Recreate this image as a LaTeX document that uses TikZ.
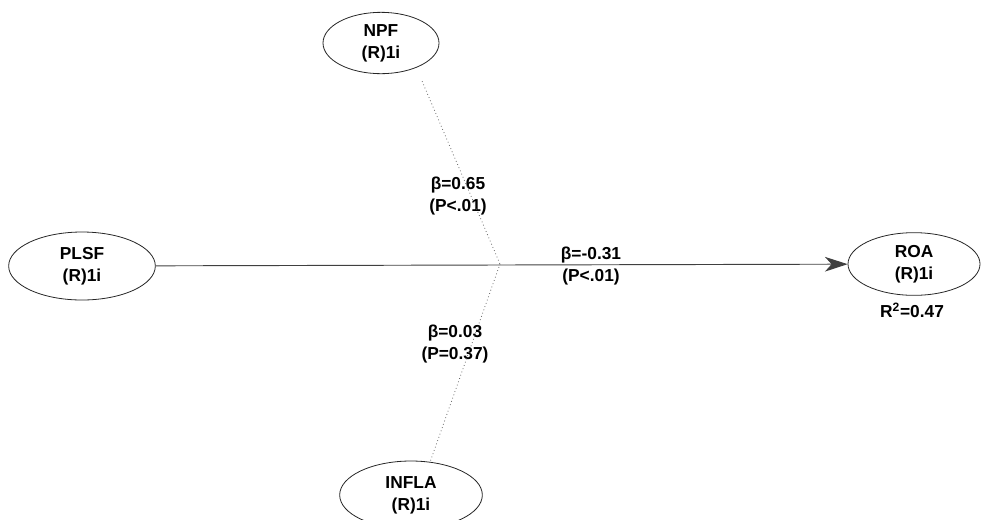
\documentclass[tikz,border=0pt]{standalone}
\usepackage{fontspec}
\setmainfont{Liberation Sans}
\usetikzlibrary{arrows.meta, shapes.geometric}

\begin{document}
\begin{tikzpicture}[x=0.75pt, y=-0.75pt,
  lat/.style={ellipse, draw=black!85, line width=0.6pt, inner sep=0pt,
    minimum width=110pt, minimum height=51pt, align=center,
    font=\bfseries\fontsize{13}{16.5}\selectfont},
  coef/.style={align=center, font=\bfseries\fontsize{13}{16.5}\selectfont},
  path/.style={draw=black!75, line width=0.7pt},
  weak/.style={draw=black!60, dotted, line width=0.6pt}]
\useasboundingbox (0,0) rectangle (982,519);
\node[lat, minimum width=87pt, minimum height=46pt] (NPF) at (381,43) {NPF\\(R)1i};
\node[lat] (PLSF) at (82,266) {PLSF\\(R)1i};
\node[lat, minimum width=99pt, minimum height=47pt] (ROA) at (914,264) {ROA\\(R)1i};
\node[lat, minimum width=107pt] (INFLA) at (411,495) {INFLA\\(R)1i};
\coordinate (J) at (500,264);
\node[coef] (r2) at (912,310) {R\textsuperscript{2}=0.47};
\node[coef] (b1) at (458,196) {β=0.65\\(P<.01)};
\node[coef] (b2) at (591,266) {β=-0.31\\(P<.01)};
\node[coef] (b3) at (455,344) {β=0.03\\(P=0.37)};
\draw[path, -{Stealth[length=17pt, width=11pt, inset=5pt]}] (PLSF)--(ROA);
\draw[weak, shorten <=11pt] (NPF.-35)--(J);
\draw[weak, shorten <=1pt] (INFLA.60)--(J);
\end{tikzpicture}
\end{document}
